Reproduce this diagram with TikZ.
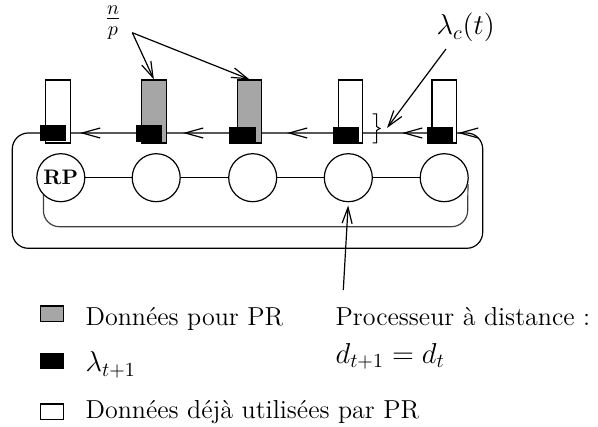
\documentclass[tikz,border=0pt]{standalone}
\usepackage{fontspec}
\usetikzlibrary{arrows.meta}
\begin{document}
\begin{tikzpicture}[x=0.5pt,y=-0.5pt,line width=0.6pt,
  every node/.style={font=\fontsize{13}{15}\selectfont},
  mathlbl/.style={font=\fontsize{14}{16}\selectfont},
  bar/.style={draw,minimum width=12.25pt,minimum height=31.5pt,inner sep=0pt},
  dat/.style={bar,fill=gray!70},
  used/.style={bar,fill=white},
  lam/.style={fill=black,draw=black,minimum width=12.5pt,minimum height=7.5pt,inner sep=0pt},
  proc/.style={draw,circle,fill=white,minimum size=24pt,inner sep=0pt,font=\fontsize{10.5}{12}\selectfont\bfseries},
  barb/.style={-{Straight Barb[length=9pt,width=5pt]}},
  pointer/.style={-{Straight Barb[length=8pt,width=5pt]}},
  legbox/.style={draw,minimum width=11.3pt,minimum height=7.8pt,inner sep=0pt},
  txt/.style={anchor=base west,inner sep=0pt}]
\useasboundingbox (0,0) rectangle (598,427);
% outer loop
\coordinate (tr) at (458,133);
\coordinate (tl) at (12.3,133);
\coordinate (bl) at (12.3,248.3);
\coordinate (br) at (482.7,248.3);
\coordinate (rt) at (482.7,133);
\draw[rounded corners=8pt] (tr) -- (tl) -- (bl) -- (br) -- (rt) -- (tr);
\foreach \x in {80,183,287,402,458}
  \draw[barb] (\x+6,133) -- (\x,133);
% bars
\node[used] (b1) at (57.85,111.5) {};
\node[dat]  (b2) at (153.85,111.5) {};
\node[dat]  (b3) at (249.5,111.5) {};
\node[used] (b4) at (350.5,111.5) {};
\node[used] (b5) at (444.15,111.5) {};
\node[lam] (l1) at (52.85,133.2) {};
\node[lam] (l2) at (149.2,133.5) {};
\node[lam] (l3) at (242.5,135.5) {};
\node[lam] (l4) at (345.8,135.5) {};
\node[lam] (l5) at (439.65,135.5) {};
% brace
\draw[line width=0.5pt] (372.7,114) -- (376.5,114) -- (376.5,126.5) -- (380,128.5) -- (376.5,130.5) -- (376.5,143) -- (372.7,143);
% processors
\node[proc] (c1) at (60.8,177.7) {RP};
\node[proc] (c2) at (156.2,177.7) {};
\node[proc] (c3) at (252.7,177.7) {};
\node[proc] (c4) at (348.3,177.7) {};
\node[proc] (c5) at (444.2,177.7) {};
\draw (c1) -- (c2) (c2) -- (c3) (c3) -- (c4) (c4) -- (c5);
% inner loop
\draw[rounded corners=8pt,draw=black!75] (c1.225) coordinate (il) -- (il |- 0,226.7) -- (467.5,226.7) -- (c5.345);
% labels
\node[mathlbl,anchor=base,inner sep=0pt] (np) at (113,25.5) {$\frac{n}{p}$};
\coordinate (npa) at (132.3,32.7);
\draw[pointer] (npa) -- (b2.north);
\draw[pointer] (npa) -- (b3.north);
\node[mathlbl,txt] (lc) at (436,35) {$\lambda_c(t)$};
\coordinate (lca) at (446,49);
\coordinate (lcb) at (387,128);
\draw[pointer] (lca) -- (lcb);
\coordinate (pa) at (343.3,290);
\draw[pointer,shorten >=1.6pt] (pa) -- (c4.south);
% legend
\node[legbox,fill=gray!70] (k1) at (52,313.8) {};
\node[legbox,fill=black] (k2) at (52,361) {};
\node[legbox,fill=white] (k3) at (52,411.7) {};
\node[txt] (t1) at (85,325) {Données pour PR};
\node[mathlbl,txt] (t2) at (85,371.7) {$\lambda_{t+1}$};
\node[txt] (t3) at (85,418) {Données déjà utilisées par PR};
\node[txt] (t4) at (335,325) {Processeur à distance :};
\node[mathlbl,txt] (t5) at (335,363) {$d_{t+1}=d_t$};
\end{tikzpicture}
\end{document}
